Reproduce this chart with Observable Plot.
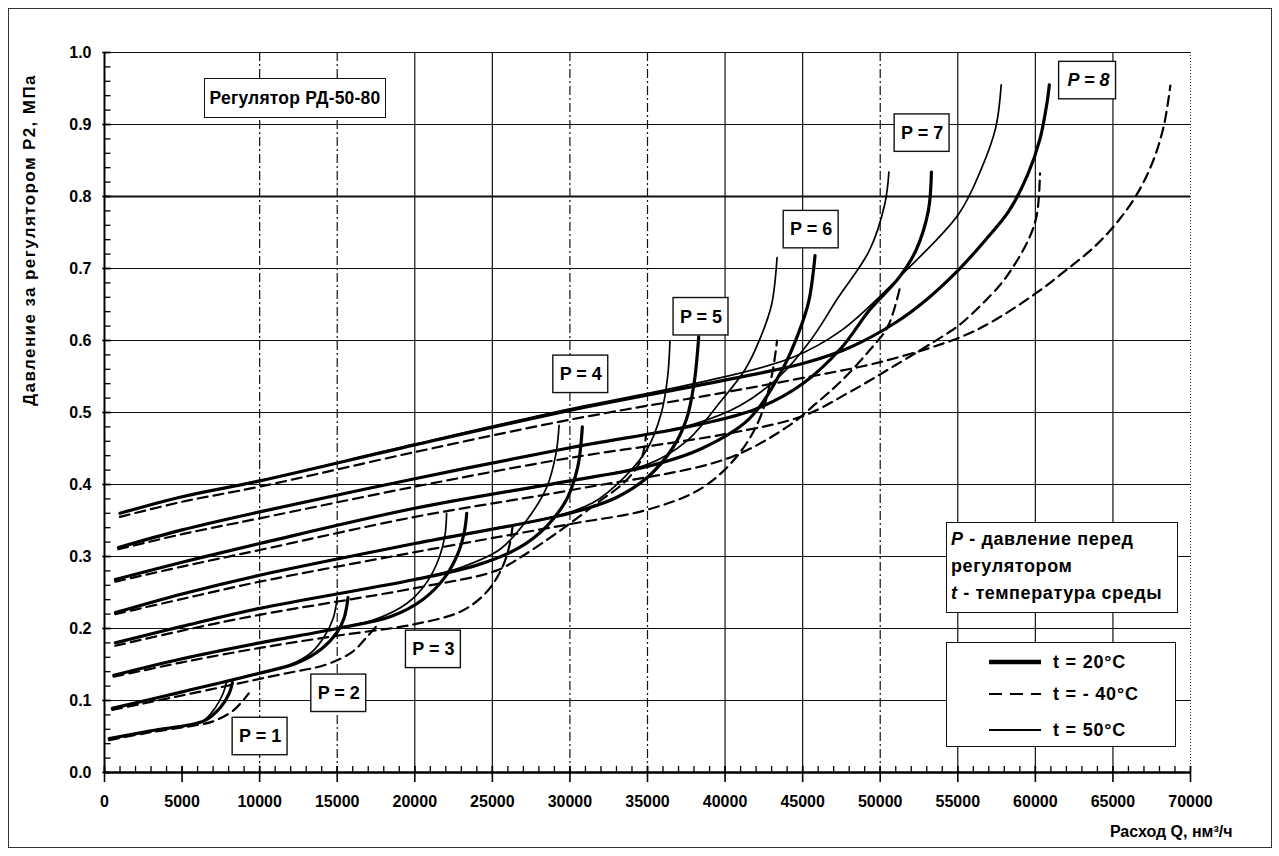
<!DOCTYPE html>
<html>
<head>
<meta charset="utf-8">
<script src="https://cdn.jsdelivr.net/npm/d3@7"></script>
<script src="https://cdn.jsdelivr.net/npm/@observablehq/plot@0.6"></script>
<style>
  html, body { margin: 0; padding: 0; background: #fff; }
  #wrap { position: relative; width: 1279px; height: 856px; overflow: hidden; font-family: "Liberation Sans", Arial, sans-serif; }
  #outer { position: absolute; left: 8px; top: 8px; width: 1264px; height: 840px; border: 1px solid #333; box-sizing: border-box; pointer-events: none; }
  .box { position: absolute; background: #fff; border: 1.5px solid #111; box-sizing: border-box; font-weight: bold; color: #000; white-space: nowrap; }
  #title { left: 204px; top: 78px; width: 182px; height: 40px; font-size: 17.5px; line-height: 38px; text-align: center; letter-spacing: 0.2px; }
  #note { left: 946px; top: 522px; width: 232px; height: 91px; font-size: 18px; line-height: 27px; padding: 3px 0 0 4px; letter-spacing: 0.6px; }
  #leg { left: 946px; top: 642px; width: 230px; height: 105px; font-size: 18px; letter-spacing: 0.8px; }
  .row { position: absolute; left: 0; width: 100%; height: 22px; }
  .row svg { position: absolute; left: 40px; top: 0; }
  .row span { position: absolute; left: 106px; top: 0; line-height: 22px; }
  #ylab { position: absolute; left: 30px; top: 240px; transform: translate(-50%, -50%) rotate(-90deg); white-space: nowrap; font-weight: bold; font-size: 17px; letter-spacing: 1.4px; }
</style>
</head>
<body>
<div id="wrap">
  <div id="chart"></div>
  <div id="outer"></div>
  <div id="ylab">Давление за регулятором P2, МПа</div>
  <div class="box" id="title">Регулятор РД-50-80</div>
  <div class="box" id="note"><i>P</i> - давление перед<br>регулятором<br><i>t</i> - температура среды</div>
  <div class="box" id="leg">
    <div class="row" style="top:8px"><svg width="56" height="22"><line x1="2" x2="54" y1="11" y2="11" stroke="#000" stroke-width="4.5"/></svg><span>t = 20°C</span></div>
    <div class="row" style="top:40px"><svg width="56" height="22"><line x1="2" x2="54" y1="11" y2="11" stroke="#000" stroke-width="2" stroke-dasharray="13,8"/></svg><span>t = - 40°C</span></div>
    <div class="row" style="top:76px"><svg width="56" height="22"><line x1="2" x2="54" y1="11" y2="11" stroke="#000" stroke-width="1.8"/></svg><span>t = 50°C</span></div>
  </div>
</div>
<script>
// ---- data: flow Q (нм³/ч) vs outlet pressure P2 (МПа), per inlet pressure P and temperature t ----
const p1_t20 = [[300,0.047],[3000,0.058],[6450,0.072],[7460,0.09],[8040,0.11],[8250,0.125]];
const p1_t50 = [[300,0.047],[3000,0.058],[6300,0.071],[7140,0.09],[7650,0.11],[7850,0.125]];
const p1_m40 = [[300,0.045],[3000,0.056],[6000,0.066],[7000,0.071],[8300,0.086],[9300,0.11]];

const p2_t20 = [[500,0.089],[5000,0.112],[10000,0.138],[12400,0.152],[14000,0.172],[15000,0.195],[15450,0.215],[15700,0.243]];
const p2_t50 = [[500,0.089],[5000,0.112],[10000,0.138],[12000,0.15],[13300,0.166],[14200,0.19],[14750,0.215],[15000,0.243]];
const p2_m40 = [[500,0.087],[5000,0.107],[11300,0.136],[14300,0.15],[16000,0.168],[16900,0.188],[17600,0.205]];

const p3_t20 = [[600,0.135],[5000,0.158],[10000,0.18],[15000,0.2],[18500,0.217],[20500,0.24],[21900,0.27],[22800,0.305],[23200,0.335],[23350,0.36]];
const p3_t50 = [[600,0.135],[5000,0.158],[10000,0.18],[15000,0.2],[17500,0.213],[19500,0.235],[20800,0.265],[21600,0.3],[21950,0.33],[22050,0.36]];
const p3_m40 = [[600,0.133],[5000,0.153],[10000,0.173],[15000,0.19],[20000,0.206],[23000,0.224],[24600,0.25],[25600,0.283],[26100,0.315],[26350,0.35]];

const p4_t20 = [[700,0.18],[5000,0.203],[10000,0.228],[20000,0.268],[24000,0.288],[26700,0.312],[28500,0.342],[29800,0.38],[30500,0.424],[30800,0.48]];
const p4_t50 = [[700,0.18],[5000,0.203],[10000,0.228],[20000,0.268],[23000,0.285],[25500,0.31],[27200,0.35],[28500,0.396],[29100,0.443],[29300,0.482]];
const p4_m40 = [[700,0.176],[5000,0.197],[10000,0.219],[20000,0.256],[25200,0.28],[26900,0.3],[29300,0.335],[31800,0.375],[33600,0.405],[34600,0.435],[34900,0.468]];

const p5_t20 = [[700,0.222],[5000,0.248],[10000,0.274],[20000,0.318],[30000,0.36],[33000,0.382],[35000,0.41],[36600,0.45],[37500,0.49],[38000,0.54],[38300,0.605]];
const p5_t50 = [[700,0.222],[5000,0.248],[10000,0.274],[20000,0.318],[28500,0.353],[31500,0.375],[33500,0.41],[35000,0.45],[35900,0.5],[36300,0.55],[36450,0.6]];
const p5_m40 = [[700,0.22],[5000,0.241],[10000,0.265],[20000,0.306],[30000,0.345],[35000,0.365],[38500,0.395],[40800,0.44],[42200,0.49],[43000,0.55],[43350,0.6]];

const p6_t20 = [[700,0.268],[5000,0.292],[10000,0.318],[20000,0.367],[30000,0.405],[35000,0.425],[38500,0.45],[41500,0.49],[43700,0.56],[44800,0.614],[45400,0.655],[45800,0.718]];
const p6_t50 = [[700,0.268],[5000,0.292],[10000,0.318],[20000,0.367],[30000,0.405],[35000,0.428],[37500,0.46],[39700,0.515],[41300,0.56],[42300,0.605],[43000,0.65],[43350,0.715]];
const p6_m40 = [[700,0.265],[5000,0.286],[10000,0.309],[20000,0.355],[30000,0.392],[40000,0.435],[44000,0.48],[46000,0.515],[47500,0.544],[49300,0.586],[50500,0.62],[51300,0.676]];

const p7_t20 = [[900,0.3125],[5000,0.337],[10000,0.362],[20000,0.408],[30000,0.451],[38000,0.482],[42000,0.505],[45000,0.54],[47500,0.59],[49300,0.642],[51200,0.687],[52300,0.725],[53100,0.78],[53300,0.834]];
const p7_t50 = [[900,0.3125],[5000,0.337],[10000,0.362],[20000,0.408],[30000,0.451],[38000,0.484],[41000,0.51],[43500,0.55],[45500,0.6],[47300,0.66],[49300,0.725],[50300,0.79],[50560,0.834]];
const p7_m40 = [[900,0.31],[5000,0.331],[10000,0.353],[20000,0.397],[30000,0.437],[40000,0.47],[45000,0.495],[48000,0.528],[51000,0.566],[54400,0.611],[55300,0.625],[57600,0.674],[58500,0.7],[59600,0.742],[60100,0.775],[60300,0.832]];

const p8_t20 = [[1000,0.36],[5000,0.383],[10000,0.405],[20000,0.455],[30000,0.503],[40000,0.545],[45000,0.568],[48000,0.59],[51000,0.625],[53000,0.657],[55000,0.697],[56800,0.74],[58300,0.78],[59500,0.83],[60300,0.88],[60750,0.93],[60900,0.955]];
const p8_t50 = [[1000,0.36],[5000,0.383],[10000,0.405],[20000,0.456],[30000,0.505],[38000,0.54],[44300,0.576],[47500,0.614],[51650,0.697],[55070,0.776],[56550,0.84],[57450,0.896],[57800,0.955]];
const p8_m40 = [[1000,0.355],[5000,0.376],[10000,0.397],[20000,0.445],[30000,0.49],[40000,0.528],[45000,0.548],[50000,0.57],[55100,0.604],[57200,0.626],[60000,0.665],[62000,0.698],[63800,0.73],[65300,0.765],[66600,0.805],[67600,0.85],[68300,0.9],[68700,0.954]];

// label positions of the "P = n" boxes (Q, P2)
const pValues = [1, 2, 3, 4, 5, 6, 7, 8];
const labelQ  = [10030, 15100, 21200, 30700, 38450, 45550, 52700, 63300];
const labelP2 = [0.05, 0.11, 0.171, 0.553, 0.633, 0.754, 0.888, 0.961];

const xTicks = d3.range(0, 70001, 5000);
const yTicks = d3.range(0, 11).map(i => i / 10);
const xMinor = d3.range(0, 70001, 1000);
const yMinor = d3.range(0, 51).map(i => i / 50);
const xGridSolid = [20000, 25000, 40000, 45000, 55000, 60000, 65000];
const xGridDashDot = [10000, 15000, 30000, 35000, 50000];
const yGrid = [0.1, 0.2, 0.3, 0.4, 0.5, 0.6, 0.7, 0.9, 1.0];
const yGridHeavy = [0.8];

// ---- build tables ----
const curveSets = {
  t20: [p1_t20, p2_t20, p3_t20, p4_t20, p5_t20, p6_t20, p7_t20, p8_t20],
  t50: [p1_t50, p2_t50, p3_t50, p4_t50, p5_t50, p6_t50, p7_t50, p8_t50],
  m40: [p1_m40, p2_m40, p3_m40, p4_m40, p5_m40, p6_m40, p7_m40, p8_m40]
};
function rows(set) {
  return curveSets[set].flatMap((pts, i) => pts.map(([q, p2]) => ({id: `${set}-${pValues[i]}`, q, p2})));
}
const labels = pValues.map((p, i) => ({p, q: labelQ[i], y: labelP2[i]}));
const font = "'Liberation Sans', Arial, sans-serif";

const chart = Plot.plot({
  width: 1279,
  height: 856,
  marginLeft: 104,
  marginRight: 89,
  marginTop: 52,
  marginBottom: 84,
  x: {domain: [0, 70000], axis: null},
  y: {domain: [0, 1], axis: null},
  style: {fontFamily: font, background: "transparent", color: "#000"},
  marks: [
    // grid
    Plot.ruleY(yGrid, {stroke: "#111", strokeWidth: 1.2}),
    Plot.ruleY(yGridHeavy, {stroke: "#111", strokeWidth: 1.9}),
    Plot.ruleX(xGridSolid, {stroke: "#111", strokeWidth: 1.2}),
    Plot.ruleX(xGridDashDot, {stroke: "#111", strokeWidth: 1.2, strokeDasharray: "9,3,2,3"}),
    Plot.ruleX([70000], {stroke: "#333", strokeWidth: 1, strokeDasharray: "1,2"}),
    // curves
    Plot.line(rows("m40"), {x: "q", y: "p2", z: "id", stroke: "#000", strokeWidth: 2.2, strokeDasharray: "10,6", curve: "catmull-rom"}),
    Plot.line(rows("t50"), {x: "q", y: "p2", z: "id", stroke: "#000", strokeWidth: 1.7, curve: "catmull-rom"}),
    Plot.line(rows("t20"), {x: "q", y: "p2", z: "id", stroke: "#000", strokeWidth: 3.2, curve: "catmull-rom"}),
    // axes lines and ticks
    Plot.ruleX(xMinor, {x: d => d, y1: 0, y2: 0.0085, stroke: "#000", strokeWidth: 1.3}),
    Plot.ruleX(xTicks, {x: d => d, y1: -0.014, y2: 0.0085, stroke: "#000", strokeWidth: 1.6}),
    Plot.ruleY(yMinor, {y: d => d, x1: 0, x2: 420, stroke: "#000", strokeWidth: 1.3}),
    Plot.ruleY(yTicks, {y: d => d, x1: -115, x2: 420, stroke: "#000", strokeWidth: 1.6}),
    Plot.ruleY([0], {stroke: "#000", strokeWidth: 2.6}),
    Plot.ruleX([0], {stroke: "#000", strokeWidth: 2}),
    // tick labels
    Plot.text(xTicks, {x: d => d, y: 0, dy: 29, text: d => String(d), fontSize: 16, fontWeight: "bold", letterSpacing: 1.5}),
    Plot.text(yTicks, {x: 0, y: d => d, dx: -13, text: d => d.toFixed(1), textAnchor: "end", fontSize: 16, fontWeight: "bold", letterSpacing: 0.5}),
    // x axis title
    Plot.text(["Расход Q, нм³/ч"], {frameAnchor: "bottom-right", dx: 42, dy: 64, textAnchor: "end", fontSize: 16, fontWeight: "bold", letterSpacing: 0.8}),
    // P labels
    Plot.rect(labels, {x1: d => d.q - 1770, x2: d => d.q + (d.p === 8 ? 1900 : 1770), y1: d => d.y - 0.026, y2: d => d.y + 0.026, fill: "#fff", stroke: "#111", strokeWidth: 1.4}),
    Plot.text(labels.filter(d => d.p !== 8), {x: "q", y: "y", text: d => `P = ${d.p}`, fontSize: 18, fontWeight: "bold"}),
    Plot.text(labels.filter(d => d.p === 8), {x: "q", y: "y", dx: 2, text: d => `P = ${d.p}`, fontSize: 18, fontWeight: "bold", fontStyle: "italic"})
  ]
});
document.getElementById("chart").appendChild(chart);
</script>
</body>
</html>
